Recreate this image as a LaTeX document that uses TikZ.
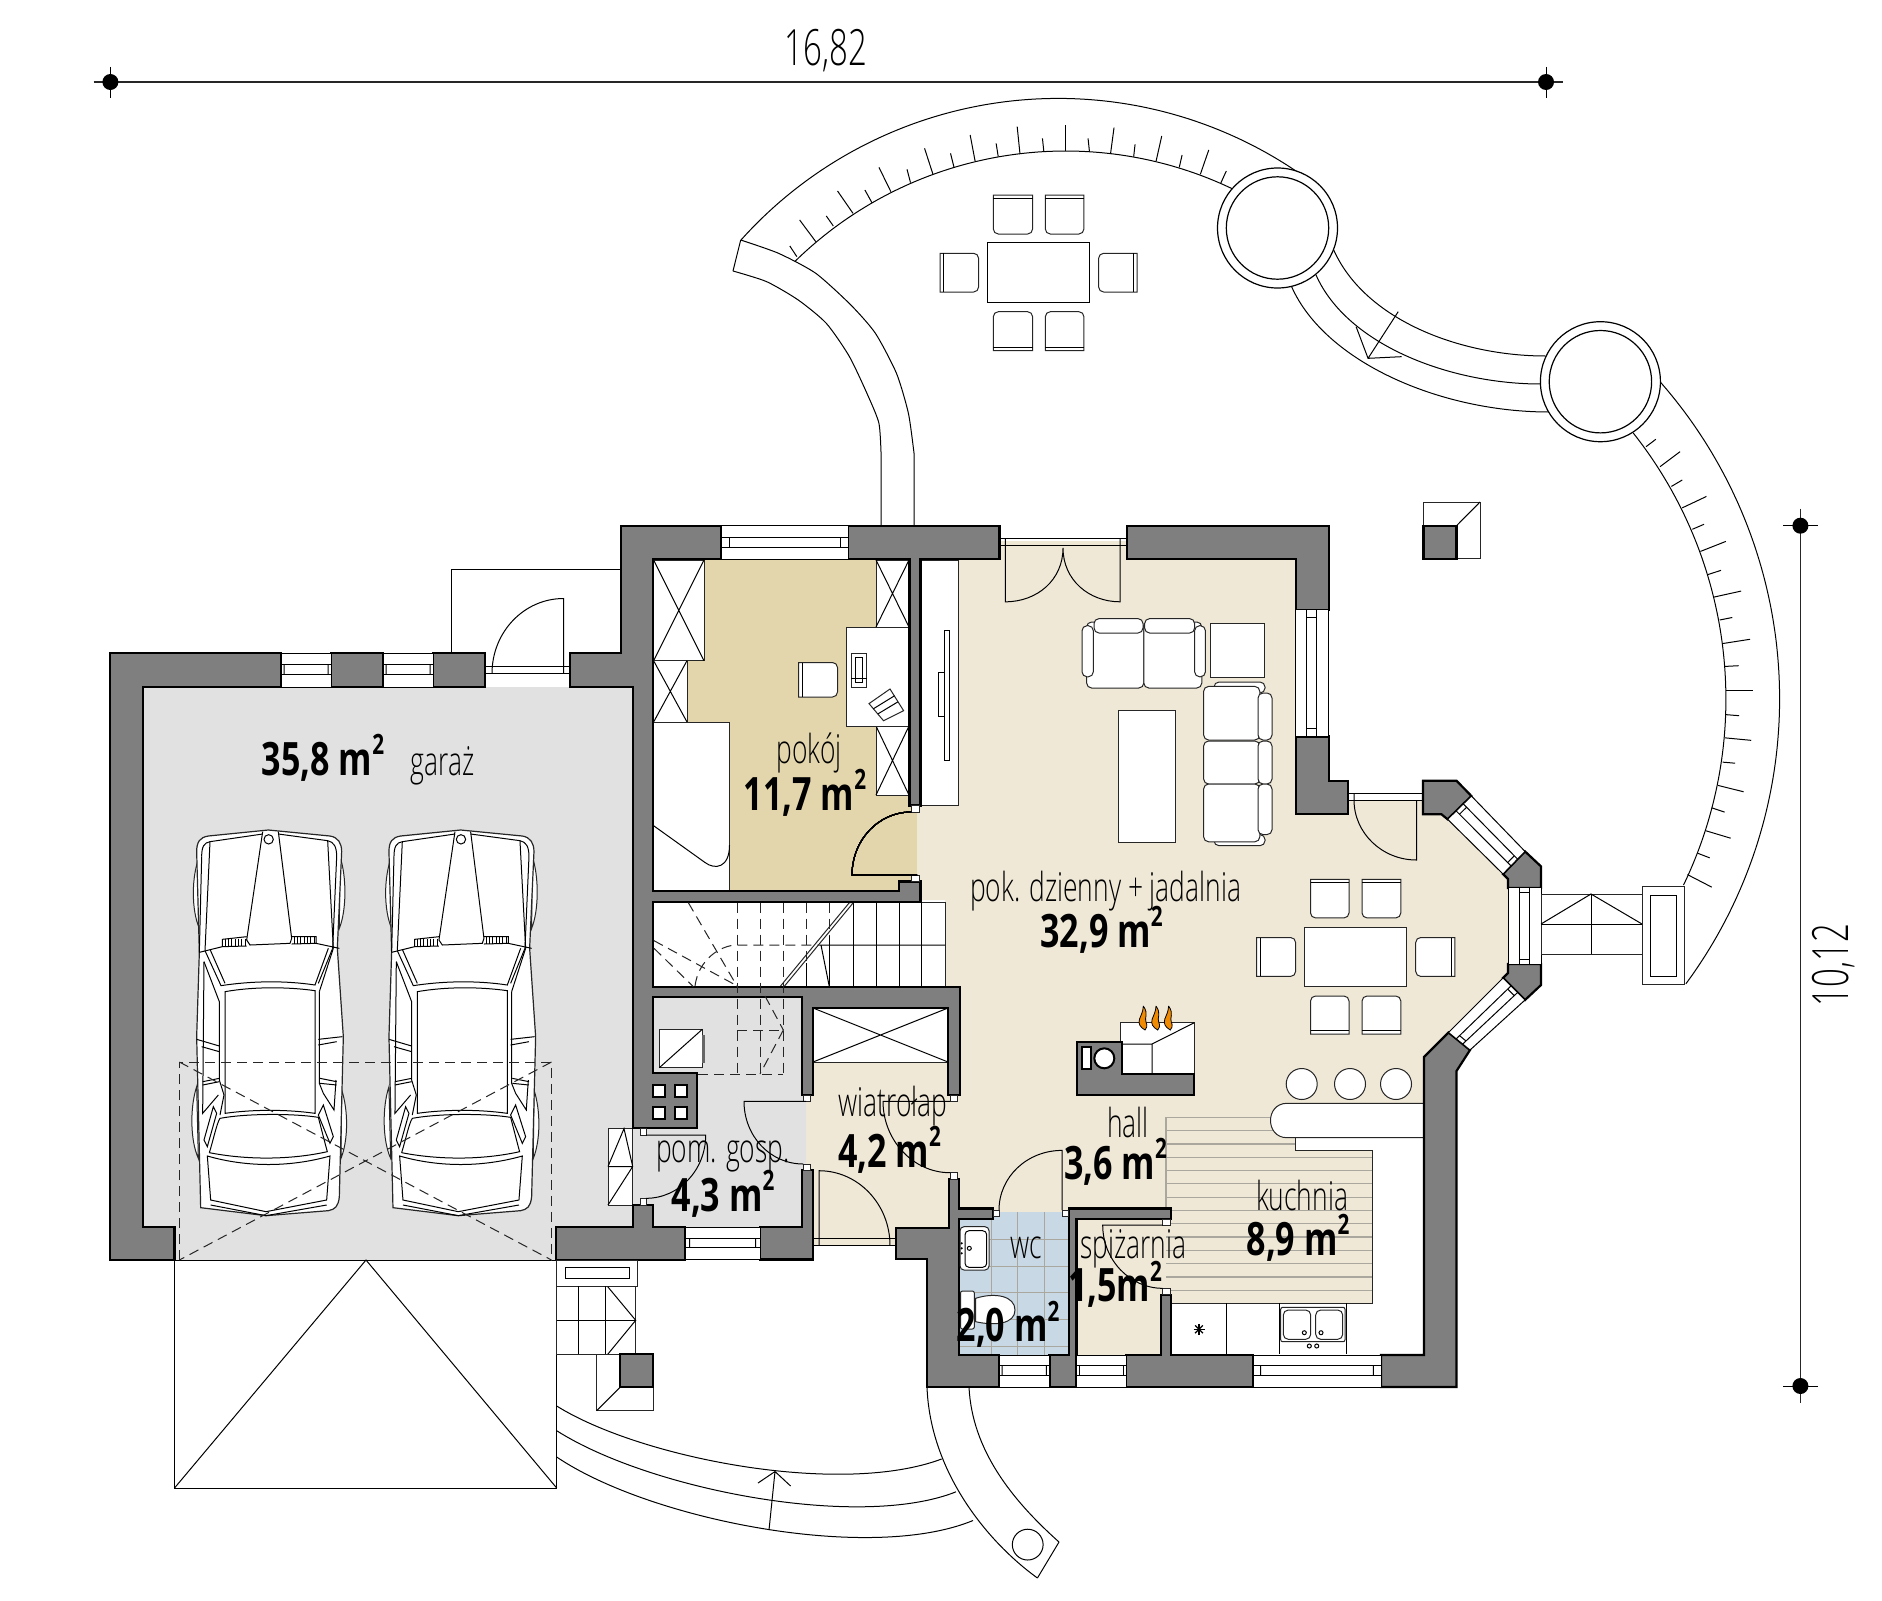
\documentclass[tikz,border=0pt]{standalone}
\usepackage{fontspec}
\usetikzlibrary{calc}
\setmainfont{Open Sans}
\newfontfamily\labfont[FakeStretch=0.66]{Open Sans Light}
\newfontfamily\numfont[FakeStretch=0.74]{Open Sans}
\definecolor{wallc}{HTML}{7F7F7F}
\definecolor{livc}{HTML}{EFE8D7}
\definecolor{pokc}{HTML}{E4D6AC}
\definecolor{garc}{HTML}{E1E1E1}
\definecolor{wcc}{HTML}{C8D9E5}
\definecolor{stripec}{HTML}{A9A79E}
\definecolor{flamec}{HTML}{F08A00}
\tikzset{
 wallp/.style={fill=wallc,draw=black,line width=1.1pt,line join=miter},
 thin1/.style={draw=black,line width=0.5pt},
 furn/.style={fill=white,draw=black!85,line width=0.5pt},
 dashl/.style={draw=black!85,line width=0.5pt,dash pattern=on 5pt off 3pt},
 lab/.style={font=\labfont\fontsize{20}{20}\selectfont,anchor=base,inner sep=0pt,text=black},
 num/.style={font=\numfont\bfseries\fontsize{23}{23}\selectfont,anchor=base,inner sep=0pt},
 dimt/.style={font=\labfont\fontsize{25}{25}\selectfont,anchor=base,inner sep=0pt},
 dimdot/.style={fill=black,draw=none},
 dimline/.style={draw=black!85,line width=.8pt},
}
\newcommand{\msq}{\raisebox{.45em}{\fontsize{14}{14}\selectfont 2}}
\newcommand{\winq}[4]{%
 \draw[furn,draw=black] #1 -- #2 -- #3 -- #4 -- cycle;
 \draw[thin1] ($#1!.34!#2$) -- ($#4!.34!#3$);
 \draw[thin1] ($#1!.64!#2$) -- ($#4!.64!#3$);
 \draw[thin1] ($($#1!.34!#2$)!.06!($#4!.34!#3$)$) -- ($($#1!.64!#2$)!.06!($#4!.64!#3$)$);
 \draw[thin1] ($($#1!.34!#2$)!.94!($#4!.34!#3$)$) -- ($($#1!.64!#2$)!.94!($#4!.64!#3$)$);
}
\newcommand{\frsq}[4]{\draw[furn,line width=.4pt] (#1,#2) rectangle (#3,#4);}
\newcommand{\xbox}[4]{\draw[furn] (#1,#2) rectangle (#3,#4); \draw[thin1] (#1,#2) -- (#3,#4) (#1,#4) -- (#3,#2);}
\newcommand{\chT}[4]{\draw[furn] (#1,#2) {[rounded corners=2.5pt] -- (#1,#4) -- (#3,#4)} -- (#3,#2) -- cycle; \draw[thin1] (#1,{#2+3.5}) -- (#3,{#2+3.5});}
\newcommand{\chB}[4]{\draw[furn] (#1,#4) {[rounded corners=2.5pt] -- (#1,#2) -- (#3,#2)} -- (#3,#4) -- cycle; \draw[thin1] (#1,{#4-3.5}) -- (#3,{#4-3.5});}
\newcommand{\chL}[4]{\draw[furn] (#1,#2) {[rounded corners=2.5pt] -- (#3,#2) -- (#3,#4)} -- (#1,#4) -- cycle; \draw[thin1] ({#1+3.5},#2) -- ({#1+3.5},#4);}
\newcommand{\chR}[4]{\draw[furn] (#3,#2) {[rounded corners=2.5pt] -- (#1,#2) -- (#1,#4)} -- (#3,#4) -- cycle; \draw[thin1] ({#3-3.5},#2) -- ({#3-3.5},#4);}
\newcommand{\rbx}[4]{\draw[furn,rounded corners=2.5pt] (#1,#2) rectangle (#3,#4);}
\newcommand{\carplan}[1]{%
\begin{scope}[shift={(#1,820)},scale=1/3]
 \draw[furn] (58,110) .. controls (34,170) and (34,270) .. (58,325) -- cycle;
 \draw[furn] (480,110) .. controls (500,170) and (500,270) .. (478,325) -- cycle;
 \draw[furn] (50,800) .. controls (30,860) and (30,960) .. (55,1015) -- cycle;
 \draw[furn] (485,810) .. controls (505,870) and (505,960) .. (483,1015) -- cycle;
 \draw[furn,line width=.6pt] (62,1163) -- (50,650) -- (58,397) -- (50,95) .. controls (50,65) and (60,52) .. (85,48) -- (265,30) -- (450,48) .. controls (475,52) and (485,70) .. (485,95) -- (472,385) -- (490,650) -- (478,1130) .. controls (475,1160) and (465,1168) .. (445,1172) -- (258,1187) -- cycle;
 \draw[thin1] (65,110) .. controls (65,80) and (72,68) .. (90,65) -- (248,42) (295,42) -- (443,62) .. controls (462,66) and (470,80) .. (470,110) -- (458,385);
 \draw[thin1] (90,65) -- (75,392) (443,62) -- (460,385) (65,110) -- (58,397);
 \draw[thin1] (248,35) -- (200,360) -- (210,375) -- (330,370) -- (335,355) -- (295,35);
 \draw[thin1] (266,58) circle (14);
 \draw[thin1] (58,397) -- (127,380) -- (127,358) -- (200,350) (127,380) -- (200,378);
 \draw[thin1] (335,350) -- (408,350) -- (408,370) -- (335,372) (408,370) -- (478,385);
 \foreach \h in {135,145,...,195} \draw[thin1] (\h,356) -- (\h,379);
 \foreach \h in {342,352,...,402} \draw[thin1] (\h,351) -- (\h,371);
 \draw[thin1] (75,392) -- (123,497) .. controls (220,482) and (320,482) .. (405,495) -- (445,385);
 \draw[thin1] (90,388) -- (135,490) (458,385) -- (415,490);
 \draw[thin1] (135,515) .. controls (220,500) and (320,500) .. (405,512) -- (405,880) .. controls (320,868) and (220,868) .. (135,880) -- cycle;
 \draw[thin1] (72,425) -- (118,545) -- (118,780) -- (132,825) -- (120,885);
 \draw[thin1] (418,515) -- (418,790) -- (430,820) -- (462,870) -- (468,780);
 \draw[thin1] (460,385) -- (418,515) (72,425) -- (68,880) -- (115,825);
 \draw[thin1] (50,658) -- (118,678) (65,680) -- (118,695);
 \draw[thin1] (415,658) -- (487,650) (415,675) -- (470,665);
 \draw[thin1] (68,785) -- (118,775) (68,795) -- (118,785);
 \draw[thin1] (420,775) -- (470,785) (420,790) -- (470,795);
 \draw[thin1] (100,860) -- (72,960) -- (82,980) -- (110,880) -- cycle;
 \draw[thin1] (430,855) -- (460,950) -- (450,970) -- (415,885) -- cycle;
 \draw[thin1] (88,998) .. controls (100,960) and (110,910) .. (120,895) .. controls (200,880) and (340,880) .. (415,892) .. controls (425,930) and (435,970) .. (442,995) .. controls (330,1020) and (200,1020) .. (88,998);
 \draw[thin1] (82,1008) .. controls (200,1042) and (330,1042) .. (450,1008) -- (440,1140) -- (258,1175) -- (92,1140) -- cycle;
 \draw[thin1] (92,1155) -- (258,1187) -- (440,1155);
\end{scope}}
\begin{document}
\begin{tikzpicture}[x=0.5pt,y=-0.5pt]
\useasboundingbox (0,0) rectangle (1882,1600);
% ---------- floors
\fill[livc] (921,559) -- (1000,559) -- (1000,541) -- (1127,541) -- (1127,559) -- (1296,559) -- (1296,790) -- (1347,790) -- (1347,800) -- (1423,800) -- (1432,814) -- (1441,814) -- (1503,874) -- (1508,880) -- (1508,973) -- (1503,978) -- (1430,1052) -- (1424,1057) -- (1424,1357) -- (1076,1357) -- (1076,1212) -- (955,1212) -- (955,1230) -- (896,1230) -- (896,1245) -- (806,1245) -- (806,1000) -- (945,1000) -- (945,900) -- (917,900) -- (917,805) -- (921,805) -- cycle;
\fill[pokc] (653,559) rectangle (917,891);
\fill[garc] (143,687) -- (633,687) -- (633,1227) -- (556,1227) -- (556,1260) -- (174.5,1260) -- (174.5,1227) -- (143,1227) -- cycle;
\fill[garc] (653,997) -- (802,997) -- (806,1100) -- (806,1170) -- (802,1227) -- (653,1227) -- (653,1205) -- (633,1205) -- (633,1128) -- (653,1128) -- cycle;
\fill[wcc] (958,1212) rectangle (1069,1355);
\foreach \v in {991.7,1017.7,1044} \draw[stripec,line width=.5pt] (\v,1212) -- (\v,1355);
\foreach \h in {1239,1266,1292.7,1319.3,1346} \draw[stripec,line width=.5pt] (958,\h) -- (1069,\h);
% ---------- kitchen
\draw[stripec,line width=.6pt] (1166,1208) -- (1166,1117.3);
\foreach \k in {0,...,14} \draw[stripec,line width=.6pt] (1166,{1117.3+13.3*\k}) -- (1372.3,{1117.3+13.3*\k});
\draw[furn] (1295.7,1125) -- (1295.7,1150) -- (1372.3,1150) -- (1372.3,1303.3) -- (1171,1303.3) -- (1171,1360) -- (1424,1360) -- (1424,1125) -- cycle;
\draw[furn] (1424,1103.3) -- (1287,1103.3) .. controls (1265,1103.3) and (1265,1137.7) .. (1287,1137.7) -- (1424,1137.7) -- cycle;
\foreach \c in {1301.7,1350,1396} \draw[furn] (\c,1084) circle (7.75pt);
\draw[thin1] (1226,1303.3) -- (1226,1354) (1279,1303.3) -- (1279,1354) (1346.7,1303.3) -- (1346.7,1354);
\draw[furn,rounded corners=1pt] (1280.7,1307.3) rectangle (1345,1341.7);
\rbx{1283.3}{1310}{1310.7}{1339.3}
\rbx{1315.7}{1310}{1342.7}{1339.3}
\foreach \c/\d in {1304.3/1332.7,1321/1332.7,1309.3/1346,1316.7/1346} \draw[thin1] (\c,\d) circle (1pt);
\foreach \r in {0,45,90,135} \draw[thin1,line width=.6pt] ($(1199,1329.3)+(\r:-5.5)$) -- ($(1199,1329.3)+(\r:5.5)$);
% ---------- pokoj furniture
\xbox{653.6}{560}{704}{660.7}
\xbox{653.6}{660.7}{687}{722}
\draw[furn] (653.6,722) rectangle (729.5,891);
\draw[thin1] (653.6,825.7) -- (705,862.5) .. controls (715,870) and (729.5,868) .. (729.5,845);
\xbox{876}{560}{909}{627}
\xbox{876}{726}{909}{795}
\draw[furn] (846.4,627) rectangle (909,726);
\draw[furn] (851,653.6) rectangle (866.5,687);
\draw[thin1] (855,657) rectangle (862,682);
\draw[thin1] (851,678) -- (866.5,678);
\draw[furn] (869,703.6) -- (890,689) -- (903.6,710.7) -- (883.5,720.7) -- cycle;
\draw[thin1] (873,709) -- (894.6,695.7) (877.7,714) -- (898,701.8);
\chL{798.7}{662.5}{837.5}{697}
% ---------- TV unit
\draw[furn] (920.5,560) rectangle (958.5,805.4);
\draw[thin1] (944.6,630) rectangle (949,760.7);
\draw[thin1] (938.8,672.5) rectangle (944.6,716);
% ---------- living furniture
\rbx{1086.6}{622}{1143.8}{688}
\rbx{1143.8}{622}{1201.8}{688}
\rbx{1094}{618.6}{1143}{633}
\rbx{1144.6}{618.6}{1194.6}{633}
\rbx{1082}{625.7}{1093.3}{676.8}
\rbx{1194.6}{625.7}{1205.4}{676.8}
\draw[furn] (1210,623) rectangle (1264.7,677);
\rbx{1214}{682}{1265}{693}
\rbx{1214}{834.6}{1265}{845.7}
\rbx{1203.6}{686.4}{1259.8}{740}
\rbx{1203.6}{741}{1259.8}{784}
\rbx{1203.6}{784}{1259.8}{841.8}
\rbx{1258}{693}{1272}{740}
\rbx{1258}{741}{1272}{784}
\rbx{1258}{784}{1272}{834.6}
\draw[furn] (1118.8,710.7) rectangle (1175.4,842);
% dining
\draw[furn] (1304.4,927) rectangle (1406.5,986.4);
\chT{1310.5}{879.3}{1349}{917.9}
\chT{1362}{879.3}{1400.8}{917.9}
\chL{1256.5}{937.5}{1295.6}{976.4}
\chR{1415.7}{937.5}{1454.8}{976.4}
\chB{1310.5}{996}{1349}{1034}
\chB{1362}{996}{1400.8}{1034}
% fireplace
\draw[furn] (1120.7,1022.7) rectangle (1194.3,1074.3);
\draw[thin1] (1120.7,1044) -- (1152,1044) -- (1194.3,1022.7) (1152,1044) -- (1152,1074.3);
\draw[wallp] (1077.3,1041.7) -- (1121.7,1041.7) -- (1121.7,1074.3) -- (1194.3,1074.3) -- (1194.3,1095) -- (1077.3,1095) -- cycle;
\draw[furn,line width=1pt,draw=black] (1081.7,1047.3) rectangle (1090.7,1069.3);
\draw[furn,line width=1pt,draw=black] (1104.3,1058.3) circle (5pt);
\foreach \o in {0,12.7,25.3}
 \draw[fill=flamec,draw=black,line width=.4pt,shift={(\o,0)}] (1143.3,1006) .. controls (1149,1014) and (1144,1018) .. (1146,1022) .. controls (1148,1026) and (1146,1029) .. (1145,1030) .. controls (1140,1027) and (1138,1024) .. (1139.5,1019) .. controls (1141,1015) and (1143,1012) .. (1143.3,1006);
% ---------- stairs (solid part)
\draw[furn] (652.7,902) rectangle (945,987);
\begin{scope}[shift={(640,880)},scale=1/3]
 \foreach \v in {640,708,777,845} \draw[thin1] (\v,68) -- (\v,320);
 \draw[thin1] (568,165) -- (568,320) (498,250) -- (498,320);
 \draw[thin1] (540,195) -- (915,195) (543,195) -- (568,320);
 \draw[furn] (640,68) -- (628,68) -- (420,320) -- (432,320) -- cycle;
\end{scope}
% washer, closet
\draw[furn] (659.3,1029.3) rectangle (702.3,1067.7);
\draw[thin1] (659.3,1067.7) -- (702.3,1029.3);
\fill[black!60] (702.3,1035) rectangle (705,1062.7);
\xbox{813}{1008}{948}{1062}
% garage side closet
\draw[furn] (608,1128.6) rectangle (632.7,1205);
\draw[thin1] (608,1166.5) -- (632.7,1166.5) (608,1166.5) -- (624,1128.6) -- (632.7,1166.5) -- (608,1205);
% ---------- walls
\draw[wallp] (110.3,653) -- (281,653) -- (281,687) -- (143,687) -- (143,1227) -- (174.5,1227) -- (174.5,1260) -- (110.3,1260) -- cycle;
\draw[wallp] (331,653) rectangle (383,687);
\draw[wallp] (433,653) rectangle (485,687);
\draw[wallp] (570,653) -- (620.6,653) -- (620.6,525.7) -- (721.4,525.7) -- (721.4,559) -- (652.7,559) -- (652.7,891) -- (899,891) -- (899,881.4) -- (920.5,881.4) -- (920.5,901.8) -- (652.7,901.8) -- (652.7,987) -- (960,987) -- (960,1095) -- (948,1095) -- (948,1008) -- (813,1008) -- (813,1095) -- (802,1095) -- (802,997) -- (652.7,997) -- (652.7,1073) -- (697,1073) -- (697,1128) -- (633,1128) -- (633,687) -- (570,687) -- cycle;
\foreach \a/\b in {652.7/1085,675/1085,652.7/1107,675/1107} \draw[fill=white,draw=black,line width=1pt] (\a,\b) rectangle ++(12,12);
\draw[wallp] (848,525.7) -- (999.5,525.7) -- (999.5,559) -- (920.5,559) -- (920.5,805.4) -- (909.4,805.4) -- (909.4,559) -- (848,559) -- cycle;
\draw[wallp] (1126.8,525.7) -- (1328.6,525.7) -- (1328.6,609.6) -- (1295.6,609.6) -- (1295.6,558.6) -- (1126.8,558.6) -- cycle;
\draw[wallp] (1295.6,736.4) -- (1328.6,736.4) -- (1328.6,780.7) -- (1347.6,780.7) -- (1347.6,814.3) -- (1295.6,814.3) -- cycle;
\draw[wallp] (1423,780.7) -- (1456.5,780.7) -- (1471.4,796) -- (1447.6,819.3) -- (1441.5,814.3) -- (1423,814.3) -- cycle;
\draw[wallp] (1525,851.4) -- (1541,866.4) -- (1541,887.9) -- (1508,887.9) -- (1508,879) -- (1503,874) -- cycle;
\draw[wallp] (1508,964) -- (1541,964) -- (1541,985) -- (1525,1000) -- (1503,978) -- (1508,973) -- cycle;
\draw[wallp] (1381,1355) -- (1424,1355) -- (1424,1057) -- (1448.5,1032.5) -- (1470,1050) -- (1456.5,1071) -- (1456.5,1387) -- (1381,1387) -- cycle;
\draw[wallp] (1126,1355) -- (1161,1355) -- (1161,1295) -- (1171,1295) -- (1171,1355) -- (1253,1355) -- (1253,1387) -- (1126,1387) -- cycle;
\draw[wallp] (1069,1208.4) -- (1171,1208.4) -- (1171,1218.6) -- (1076.5,1218.6) -- (1076.5,1387) -- (1049.5,1387) -- (1049.5,1355) -- (1069,1355) -- cycle;
\draw[wallp] (896,1228) -- (949,1228) -- (949,1179) -- (959,1179) -- (959,1208.4) -- (993,1208.4) -- (993,1218.6) -- (959,1218.6) -- (959,1355) -- (999,1355) -- (999,1387) -- (927,1387) -- (927,1259) -- (896,1259) -- cycle;
\draw[wallp] (556,1227) -- (633,1227) -- (633,1205) -- (653,1205) -- (653,1227) -- (685,1227) -- (685,1260) -- (556,1260) -- cycle;
\draw[wallp] (802,1170) -- (813,1170) -- (813,1259.5) -- (760,1259.5) -- (760,1227) -- (802,1227) -- cycle;
% ---------- stairs dashed (over walls)
\begin{scope}[shift={(640,880)},scale=1/3]
 \foreach \v in {292,362,430} \draw[dashl] (\v,68) -- (\v,582);
 \draw[dashl] (498,68) -- (498,250) (568,68) -- (568,165);
 \draw[dashl] (145,68) -- (292,320);
 \draw[dashl] (42,182) -- (292,318);
 \draw[dashl] (42,205) -- (160,320);
 \draw[dashl] (165,318) .. controls (175,240) and (240,195) .. (292,195) -- (540,195);
 \draw[dashl] (292,450) -- (430,450) (175,582) -- (430,582);
 \draw[dashl] (430,450) -- (360,582) (375,348) -- (430,450);
\end{scope}
% ---------- windows
\winq{(281,653)}{(281,687)}{(331,687)}{(331,653)}
\winq{(383,653)}{(383,687)}{(433,687)}{(433,653)}
\winq{(721.4,525.7)}{(721.4,559)}{(848,559)}{(848,525.7)}
\winq{(685,1227)}{(685,1259.5)}{(760,1259.5)}{(760,1227)}
\winq{(999,1355)}{(999,1387)}{(1049.5,1387)}{(1049.5,1355)}
\winq{(1076.5,1355)}{(1076.5,1387)}{(1126,1387)}{(1126,1355)}
\winq{(1253,1355)}{(1253,1387)}{(1381,1387)}{(1381,1355)}
\winq{(1295.6,609.6)}{(1328.6,609.6)}{(1328.6,736.4)}{(1295.6,736.4)}
\winq{(1508,887.9)}{(1541,887.9)}{(1541,964)}{(1508,964)}
\winq{(1471.4,796)}{(1447.6,819.3)}{(1503,874)}{(1525,851.4)}
\winq{(1525,1000)}{(1503,978)}{(1448.5,1032.5)}{(1470,1050)}
% ---------- doors
\foreach \a/\b/\c/\d in {911/805.4/919/812,911/875/919/881.4,803.3/1095/810.7/1101.3,803.3/1164/810.7/1170,950/1095/957.3/1101.3,950/1172.7/957.3/1179,640/1128.3/646/1135,640/1198.3/646/1205,993.3/1210/999/1216.7,1062.3/1210/1068.3/1216.7,1162.7/1219.3/1170/1225,1162.7/1288.3/1170/1294.3} \frsq{\a}{\b}{\c}{\d}
\draw[thin1] (917,875) -- (852,875) .. controls (852,840) and (878.5,812) .. (911,812);
\draw[thin1] (999.5,538) -- (1127,538) (999.5,545.7) -- (1127,545.7);
\draw[thin1] (1005.4,538) -- (1005.4,601.8) .. controls (1037,601.8) and (1063,580) .. (1063,548) .. controls (1063,580) and (1089,601.8) .. (1120,601.8) -- (1120,538);
\draw[thin1] (1347.6,793.6) -- (1423,793.6) (1347.6,800.4) -- (1423,800.4);
\draw[thin1] (1354,793.6) -- (1354,800) .. controls (1354,833) and (1382,860) .. (1416.5,860) -- (1416.5,800);
\draw[thin1] (806,1101.3) -- (744,1101.3) .. controls (744,1136) and (770,1164) .. (803.3,1164);
\draw[thin1] (950,1101.3) -- (883,1101.3) .. controls (883,1140) and (913,1172.7) .. (950,1172.7);
\draw[thin1] (646,1135) -- (705.7,1135) .. controls (705.7,1170) and (679,1198.3) .. (646,1198.3);
\draw[thin1] (813,1238.3) -- (896,1238.3) (813,1245.7) -- (896,1245.7);
\draw[thin1] (819,1245.7) -- (819,1170.7) .. controls (858,1170.7) and (890,1204) .. (890,1245.7);
\draw[thin1] (999,1210) .. controls (999,1177) and (1027,1150.4) .. (1062,1150.4) -- (1062,1210);
\draw[thin1] (1162.7,1225) -- (1102.7,1225) .. controls (1102.7,1260) and (1130,1288.3) .. (1162.7,1288.3);
% garage rear door
\draw[thin1] (451,653) -- (451,569) -- (620.6,569);
\draw[thin1] (485,666) -- (570,666) (485,673.5) -- (570,673.5);
\draw[thin1] (492,673.5) .. controls (492,632) and (524,598.5) .. (563.6,598.5) -- (563.6,673.5);
% ---------- wc fixtures
\draw[furn,rounded corners=2pt] (960,1226.7) rectangle (989,1270);
\draw[thin1,rounded corners=2pt] (965,1230.7) rectangle (986.7,1267.3);
\draw[thin1] (969.3,1248.3) circle (1pt);
\foreach \d in {1243.3,1248.3,1253.3} \fill[black] (961.7,\d) circle (.6pt);
\draw[furn] (975.7,1298.3) .. controls (995,1292) and (1015,1296) .. (1015,1310) .. controls (1015,1324) and (995,1326) .. (975.7,1321.7) -- cycle;
\draw[furn,rounded corners=1pt] (960.5,1291) rectangle (974.3,1329);
% ---------- cars and garage door
\carplan{180}
\carplan{372.3}
\draw[thin1] (174.5,1227) -- (174.5,1488) -- (556.7,1488) -- (556.7,1260);
\draw[thin1] (174.5,1260) -- (556,1260);
\draw[thin1] (174.5,1488) -- (366,1260) -- (556.7,1488);
\draw[dashl] (179.4,1260) -- (179.4,1062) -- (551.5,1062) -- (551.5,1260);
\draw[dashl] (179.4,1062) -- (551.5,1260);
\draw[dashl] (551.5,1062) -- (179.4,1260);
% ---------- garden: entrance steps
\draw[furn] (556.7,1260) rectangle (637.7,1286);
\draw[thin1] (565.7,1267.7) rectangle (629.3,1278.3);
\draw[furn] (556.7,1286) rectangle (635.7,1354.3);
\draw[thin1] (578.3,1286) -- (578.3,1354.3) (605.7,1286) -- (605.7,1354.3) (556.7,1320.3) -- (635.7,1320.3);
\draw[thin1] (607.7,1286.7) -- (635.7,1320.3) -- (607.7,1354.3);
\draw[furn] (596.7,1354.3) rectangle (653.3,1410.7);
\draw[wallp] (620.3,1354.3) rectangle (653.3,1387);
\draw[thin1] (620.3,1387) -- (596.7,1410.7);
% south stairs
\draw[thin1] (556.7,1406) .. controls (640,1458) and (840,1497) .. (941.6,1459);
\draw[thin1] (556.7,1430.7) .. controls (650,1490) and (860,1530) .. (956,1491.8);
\draw[thin1] (556.7,1457) .. controls (650,1520) and (870,1563) .. (973,1520.5);
\draw[thin1] (927,1387) .. controls (930,1470) and (985,1540) .. (1037.4,1578);
\draw[thin1] (969,1387) .. controls (972,1450) and (1012,1500) .. (1059,1542);
\draw[thin1] (1059,1542) -- (1037.4,1578);
\draw[thin1] (1027.7,1544.6) circle (7.7pt);
\draw[thin1] (769,1530) -- (775,1471.5) (758,1483) -- (775,1471.5) -- (790.6,1486);
% ---------- north terrace
\draw[thin1] plot[smooth,samples=60,domain=-138.1:-55.1] ({1058.1+426*cos(\x)},{524.4+426*sin(\x)});
\draw[thin1] plot[smooth,samples=60,domain=-134.4:-64.3] ({1065.6+387*cos(\x)},{538+387*sin(\x)});
\draw[thin1] (1333.7,250) .. controls (1365,320) and (1460,356) .. (1545.6,356);
\draw[thin1] (1316,275) .. controls (1347,345) and (1450,384) .. (1540.7,384);
\draw[thin1] (1291.6,286.7) .. controls (1325,362) and (1440,412) .. (1549,412);
\begin{scope}[shift={(700,80)},xscale=1/1.425,yscale=1/3]
 \foreach \a/\b/\c/\d in {138/530/128/498,165/485/142/420,190/438/180/408,218/400/196/333,245/368/235/330,272/335/255/262,300/308/295/268,332/283/320/205,362/262/357/220,392/243/385/165,425/230/422/190,456/222/452/140,490/215/488/175,521/213/521/135,555/215/553/175,585/222/590/143,618/230/620/193,650/243/658/168,683/262/687/225,713/283/725/210,742/310/750/273}
  \draw[thin1] (\a,\b) -- (\c,\d);
 \draw[thin1] (58,480) -- (47,573);
 \draw[thin1] plot[smooth,tension=.4] coordinates {(58,480) (112,520) (165,580) (215,675) (250,760) (280,880) (297,1000) (305,1120)} -- (305,1335);
 \draw[thin1] plot[smooth,tension=.4] coordinates {(47,573) (95,605) (140,660) (180,730) (213,830) (240,950) (255,1030) (258,1120)} -- (258,1335);
 \draw[thin1] (995,695) -- (952,835) (935,740) -- (952,835) -- (1000,830);
\end{scope}
\draw[thin1] (987.7,242.3) rectangle (1089.5,302.3);
\chT{993.3}{195}{1032.6}{234}
\chT{1045.3}{195}{1083.9}{234}
\chB{993.3}{311.7}{1032.6}{350.7}
\chB{1045.3}{311.7}{1083.9}{350.7}
\chL{940}{253.3}{978.6}{292}
\chR{1098.6}{253.3}{1137.2}{292}
% east terrace
\draw[thin1] plot[smooth,samples=60,domain=-41.3:36.4] ({1299.3+480.3*cos(\x)},{698.8+480.3*sin(\x)});
\draw[thin1] plot[smooth,samples=60,domain=-38.4:25.7] ({1297.2+428.7*cos(\x)},{699.2+428.7*sin(\x)});
\begin{scope}[shift={(1250,480)},xscale=1/2.48,yscale=1/2.8]
 \foreach \a/\b/\c/\d in {1180/590/1248/590,1180/657/1213/660,1178/722/1243/729,1172/790/1203/793,1160/855/1224/873,1145/918/1177/930,1130/982/1192/1003,1110/1045/1140/1058,1085/1105/1145/1140,1178/522/1212/520,1172/458/1240/446,1165/392/1196/385,1150/328/1218/311,1135/265/1168/253,1117/200/1180/172,1097/138/1126/124,1072/78/1132/46,1045/18/1072/0}
  \draw[thin1] (\a,\b) -- (\c,\d);
\end{scope}
\draw[thin1] (1646,446.7) -- (1655.8,439.3) (1660,466.7) -- (1680,451.7);
\foreach \n/\c in {a/{1277.5,228},b/{1600.4,381.7}} {
 \draw[fill=white,draw=black,line width=.6pt] (\c) circle (30pt);
 \draw[fill=white,draw=black,line width=.6pt] (\c) circle (25.6pt);
}
% east steps
\draw[furn] (1541,894) rectangle (1642,954);
\draw[thin1] (1591,894) -- (1591,954) (1541,924) -- (1642,924);
\draw[thin1] (1541,924) -- (1591,894) -- (1642,924);
\draw[furn] (1642,886.4) rectangle (1684.7,984.3);
\draw[thin1] (1650.4,895.4) rectangle (1676.6,976.4);
% garden chimney
\draw[furn] (1423.4,502) rectangle (1480,558.6);
\draw[thin1] (1456.5,525.7) -- (1480,502);
\draw[wallp] (1423.4,525.7) rectangle (1456.5,558.6);
% ---------- dimensions
\coordinate (dl) at (110.4,82); \coordinate (dr) at (1546,82);
\coordinate (dt) at (1800.4,525.7); \coordinate (db) at (1800.4,1386);
\draw[dimline] (93.6,82) -- (1563,82);
\draw[thin1] (110.4,67) -- (110.4,98) (1546,67) -- (1546,98);
\fill[dimdot] (dl) circle (4pt) (dr) circle (4pt);
\draw[dimline] (1800.4,508.6) -- (1800.4,1403);
\draw[thin1] (1783,525.7) -- (1817.8,525.7) (1783,1386) -- (1817.8,1386);
\fill[dimdot] (dt) circle (4pt) (db) circle (4pt);
\node[dimt] (dimH) at (825.6,66) {16,82};
\node[dimt,rotate=90] (dimV) at (1848,965) {10,12};
% ---------- labels
\node[num] (aG) at (323,775.5) {35,8 m\msq};
\node[lab] (tG) at (442.5,775) {garaż};
\node[lab] (tP) at (809,763) {pokój};
\node[num] (aP) at (805,810) {11,7 m\msq};
\node[lab] (tL) at (1105.6,901.8) {pok. dzienny + jadalnia};
\node[num] (aL) at (1101.5,947) {32,9 m\msq};
\node[lab] (tW) at (893,1116.7) {wiatrołap};
\node[num] (aW) at (889.5,1167) {4,2 m\msq};
\node[lab] (tO) at (723,1162.7) {pom. gosp.};
\node[num] (aO) at (723,1211) {4,3 m\msq};
\node[lab] (tH) at (1128,1137) {hall};
\node[num] (aH) at (1115.5,1179) {3,6 m\msq};
\node[lab] (tK) at (1302,1210.7) {kuchnia};
\node[num] (aK) at (1298,1255) {8,9 m\msq};
\node[lab] (tC) at (1026,1258) {wc};
\node[num] (aC) at (1008,1341.7) {2,0 m\msq};
\node[lab] (tS) at (1133,1258) {spiżarnia};
\node[num] (aS) at (1115,1301.7) {1,5m\msq};
\end{tikzpicture}
\end{document}
